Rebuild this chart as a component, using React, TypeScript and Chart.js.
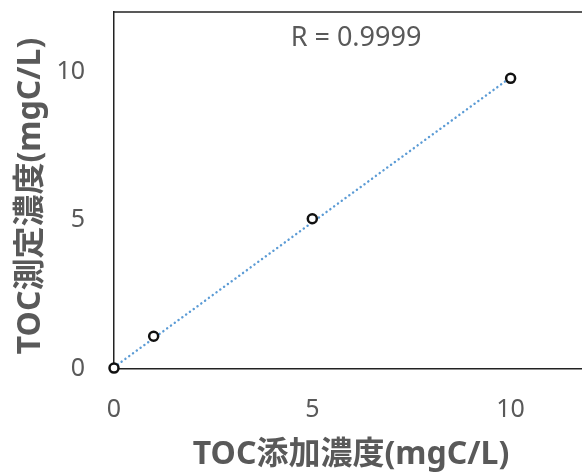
import React, { useEffect, useRef } from "react";
import { Chart, registerables } from "chart.js";

Chart.register(...registerables);

const addedConc = [0, 1, 5, 10];
const measuredConc = [0.03, 1.1, 5.05, 9.77];
const trendX = [0, 10];
const trendY = [0.06, 9.8];
const xTicks = [0, 5, 10];
const yTicks = [0, 5, 10];
const xTitle = "TOC添加濃度(mgC/L)";
const yTitle = "TOC測定濃度(mgC/L)";
const rLabel = "R = 0.9999";

const FONT = "'Noto Sans', 'Noto Sans CJK JP', sans-serif";
const GRAY = "#595959";

export default function App() {
  const ref = useRef<HTMLCanvasElement | null>(null);
  useEffect(() => {
    document.body.style.margin = "0";
    const canvas = ref.current!;
    const frame = {
      id: "frame",
      afterDraw(chart: any) {
        const { ctx, chartArea } = chart;
        ctx.save();
        ctx.strokeStyle = "#222";
        ctx.lineWidth = 1.5;
        ctx.beginPath();
        ctx.moveTo(chartArea.left, chartArea.top);
        ctx.lineTo(chartArea.right, chartArea.top);
        ctx.stroke();
        ctx.fillStyle = GRAY;
        ctx.font = `27px ${FONT}`;
        ctx.textAlign = "center";
        ctx.textBaseline = "middle";
        ctx.fillText(rLabel, 356, 38);
        ctx.font = `bold 32px ${FONT}`;
        ctx.fillText(xTitle, 351, 455);
        ctx.translate(31, 196);
        ctx.rotate(-Math.PI / 2);
        ctx.fillText(yTitle, 0, 0);
        ctx.restore();
      },
    };
    const chart = new Chart(canvas, {
      type: "scatter",
      data: {
        datasets: [
          {
            type: "scatter",
            data: addedConc.map((x, i) => ({ x, y: measuredConc[i] })),
            pointRadius: 4.5,
            pointBorderWidth: 2.5,
            pointBorderColor: "#111",
            pointBackgroundColor: "#fff",
            order: 0,
            clip: false as any,
          },
          {
            type: "line",
            data: trendX.map((x, i) => ({ x, y: trendY[i] })),
            borderColor: "#5B9BD5",
            borderWidth: 2.4,
            borderCapStyle: "round",
            borderDash: [0.1, 4.6],
            pointRadius: 0,
            fill: false,
            order: 1,
            clip: false as any,
          } as any,
        ],
      },
      options: {
        animation: false,
        responsive: false,
        maintainAspectRatio: false,
        layout: { autoPadding: false, padding: { top: 12, right: 0, left: 0, bottom: 0 } },
        plugins: { legend: { display: false }, tooltip: { enabled: false } },
        scales: {
          x: {
            type: "linear",
            min: 0,
            max: 11.8,
            afterBuildTicks: (s: any) => {
              s.ticks = xTicks.map((v) => ({ value: v }));
            },
            afterFit: (s: any) => {
              s.height = 107;
              s.paddingLeft = 0;
              s.paddingRight = 0;
              s.paddingTop = 0;
              s.paddingBottom = 0;
            },
            grid: { display: false, drawTicks: false },
            border: { display: true, color: "#222", width: 1.5 },
            ticks: { color: GRAY, font: { family: FONT, size: 25 }, padding: 26, maxRotation: 0 },
            title: { display: false },
          },
          y: {
            type: "linear",
            min: 0,
            max: 12,
            afterBuildTicks: (s: any) => {
              s.ticks = yTicks.map((v) => ({ value: v }));
            },
            afterFit: (s: any) => {
              s.width = 114;
              s.paddingLeft = 0;
              s.paddingRight = 0;
              s.paddingTop = 0;
              s.paddingBottom = 0;
            },
            grid: { display: false, drawTicks: false },
            border: { display: true, color: "#222", width: 1.5 },
            ticks: { color: GRAY, font: { family: FONT, size: 25 }, padding: 29 },
            title: { display: false },
          },
        },
      },
      plugins: [frame],
    } as any);
    return () => chart.destroy();
  }, []);
  return (
    <div style={{ position: "absolute", left: 0, top: 0, width: 582, height: 476 }}>
      <canvas ref={ref} width={582} height={476} style={{ display: "block" }} />
    </div>
  );
}
